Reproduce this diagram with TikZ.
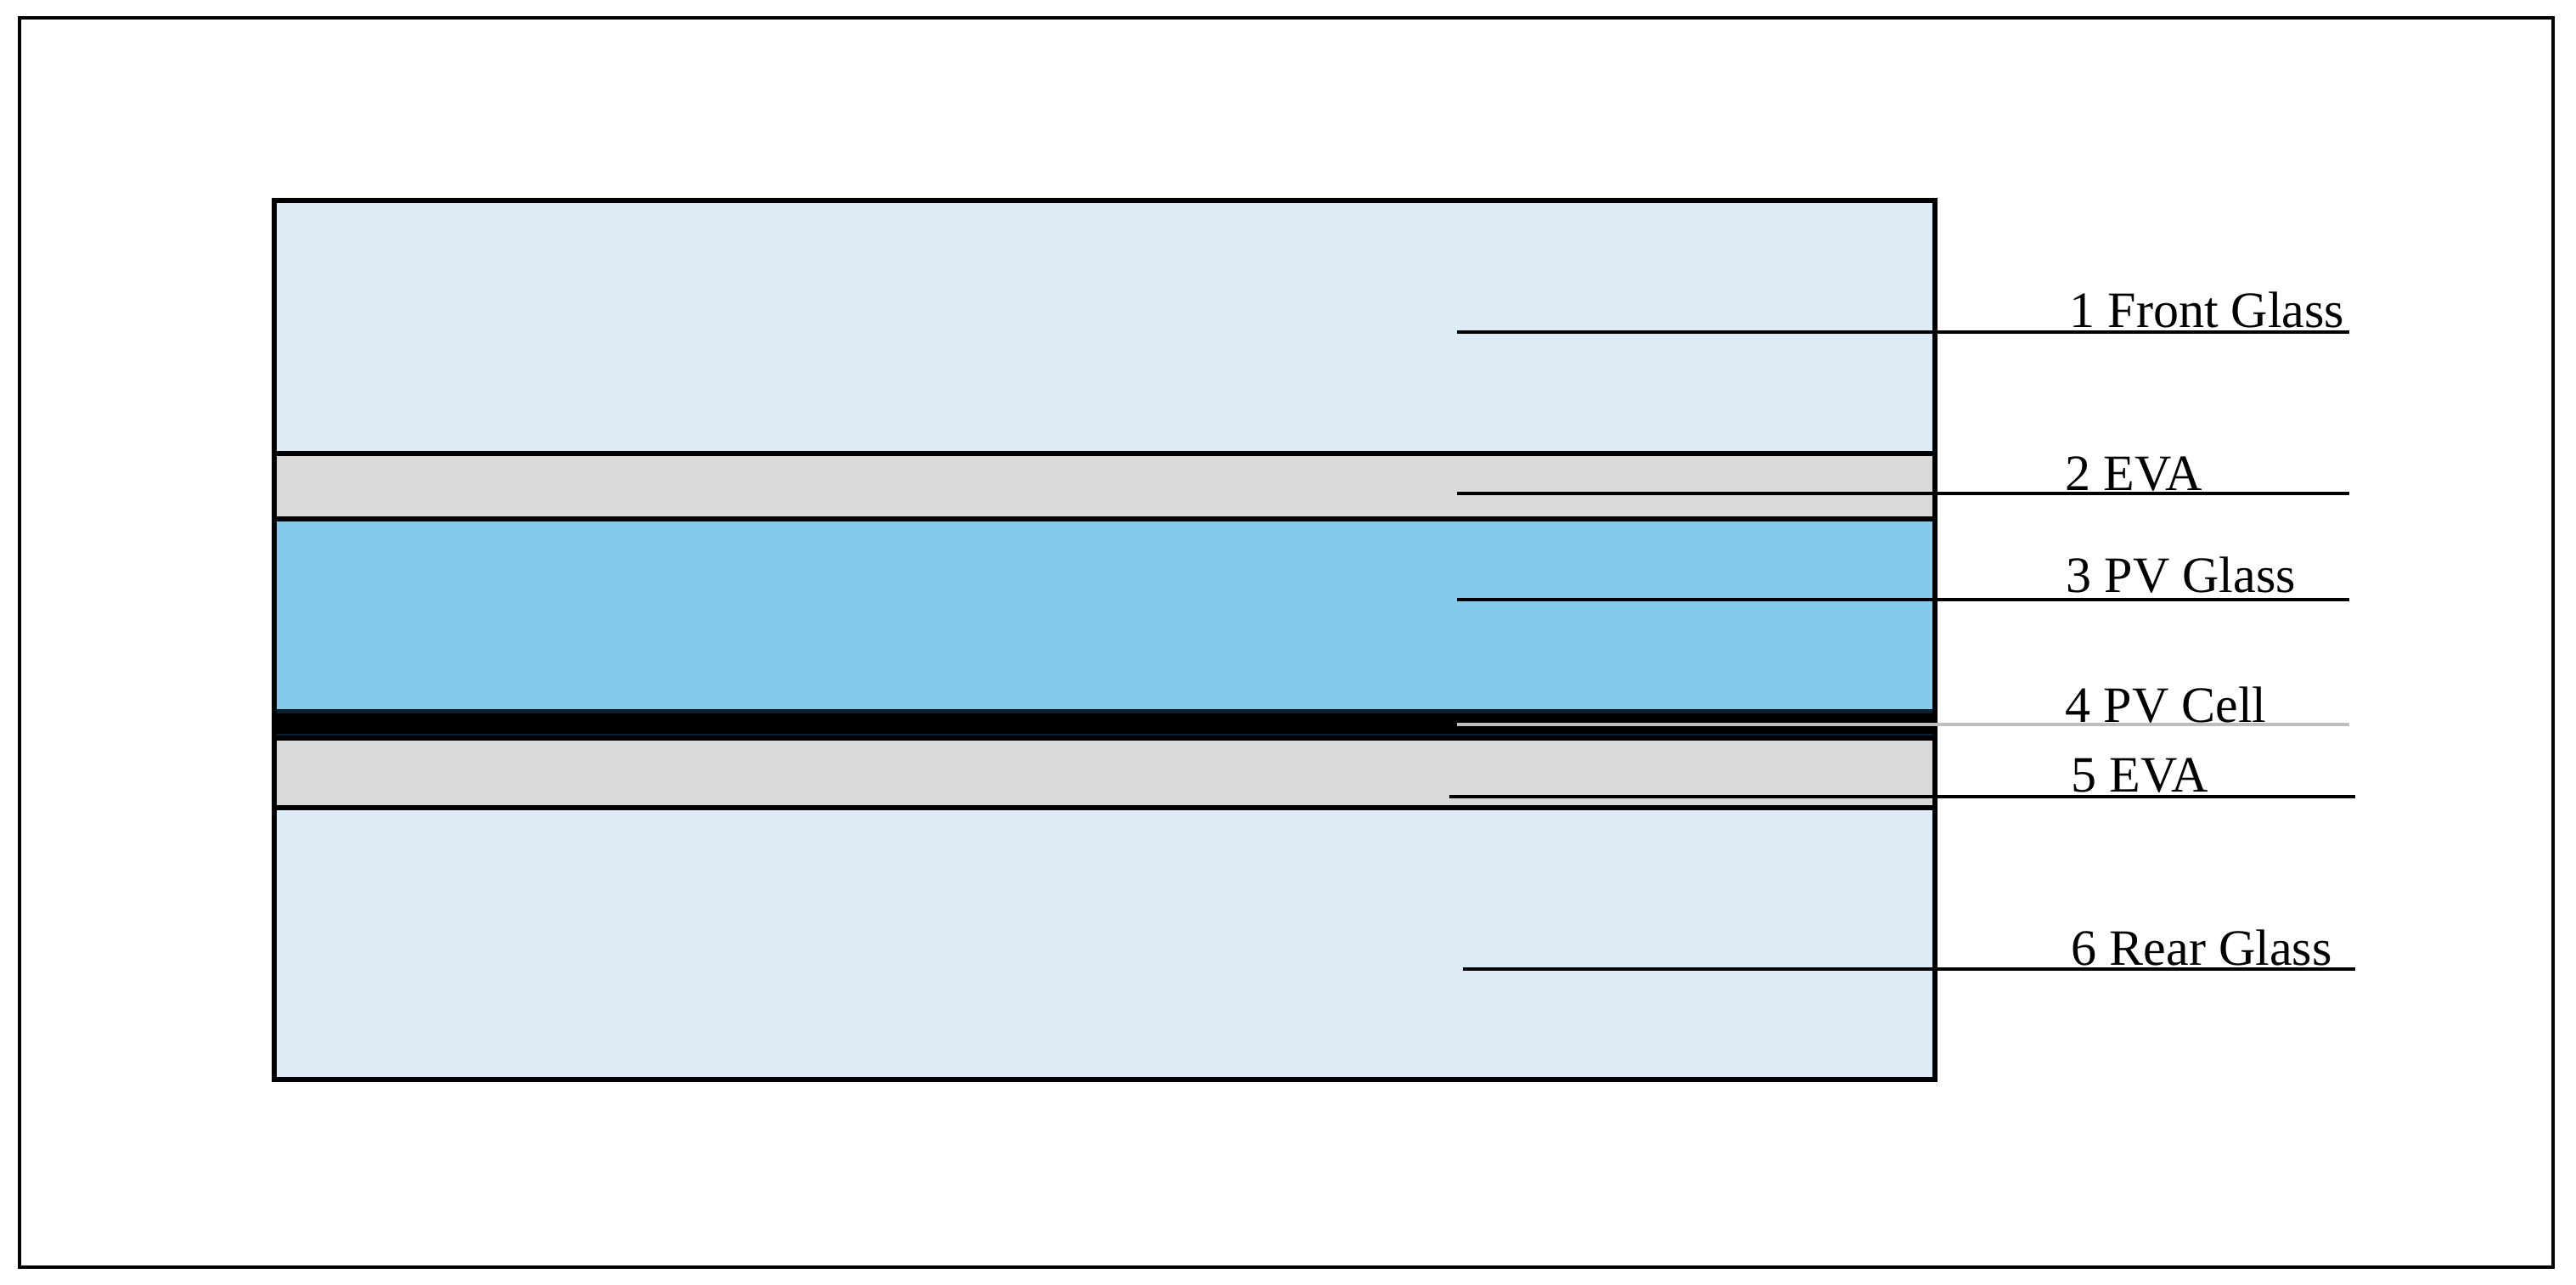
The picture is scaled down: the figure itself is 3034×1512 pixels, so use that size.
\documentclass[tikz,border=0pt]{standalone}
\usepackage{fontspec}
\setmainfont{Liberation Serif}
\definecolor{glasslight}{RGB}{221,235,247}
\definecolor{evagray}{RGB}{217,217,217}
\definecolor{pvblue}{RGB}{133,202,235}
\definecolor{cellnavy}{RGB}{10,35,52}
\definecolor{leadgray}{RGB}{190,190,190}
\tikzset{
  layerline/.style={line width=1.45pt, black},
  leader/.style={line width=1.4pt, black},
  leadergray/.style={line width=1.4pt, leadgray},
  lbl/.style={anchor=base west, inner sep=0pt, font=\fontsize{17.07pt}{20pt}\selectfont},
}
\begin{document}
\begin{tikzpicture}[x=0.01cm,y=-0.01cm]
\useasboundingbox (0,0) rectangle (3034,1512);
% outer frame
\draw[line width=1.15pt] (23,21) rectangle (3007,1492);
% layers
\fill[glasslight] (323,236) rectangle (2279,534);
\fill[evagray] (323,534) rectangle (2279,611);
\fill[pvblue] (323,611) rectangle (2279,835);
\fill[black] (323,835) rectangle (2279,870);
\draw[cellnavy, line width=0.9pt] (323,838) -- (2279,838);
\draw[cellnavy, line width=0.9pt] (323,866) -- (2279,866);
\fill[evagray] (323,870) rectangle (2279,951);
\fill[glasslight] (323,951) rectangle (2279,1271);
\draw[layerline] (323,534) -- (2279,534);
\draw[layerline] (323,611) -- (2279,611);
\draw[layerline] (323,869) -- (2279,869);
\draw[layerline] (323,951) -- (2279,951);
\draw[layerline] (323,236) rectangle (2279,1271);
% labels
\node[lbl] (l1) at (2437,385) {1 Front Glass};
\node[lbl] (l2) at (2432,577) {2 EVA};
\node[lbl] (l3) at (2433,697) {3 PV Glass};
\node[lbl] (l4) at (2432,850) {4 PV Cell};
\node[lbl] (l5) at (2439,932) {5 EVA};
\node[lbl] (l6) at (2439,1136) {6 Rear Glass};
% leader ends
\coordinate (a1) at (1716,391); \coordinate (b1) at (2767,391);
\coordinate (a2) at (1716,581); \coordinate (b2) at (2767,581);
\coordinate (a3) at (1716,706); \coordinate (b3) at (2767,706);
\coordinate (a4) at (1716,853); \coordinate (b4) at (2767,853);
\coordinate (a5) at (1707,938); \coordinate (b5) at (2774,938);
\coordinate (a6) at (1723,1141); \coordinate (b6) at (2774,1141);
\draw[leader] (a1) -- (b1);
\draw[leader] (a2) -- (b2);
\draw[leader] (a3) -- (b3);
\draw[leadergray] (a4) -- (b4);
\draw[leader] (a5) -- (b5);
\draw[leader] (a6) -- (b6);
\end{tikzpicture}
\end{document}
